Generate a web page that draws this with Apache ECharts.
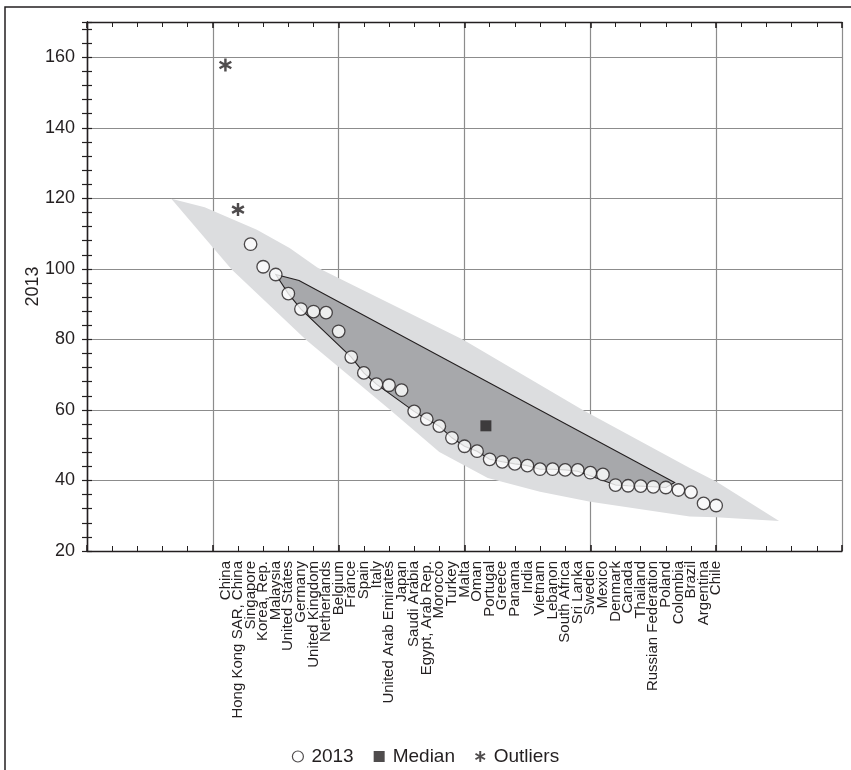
<!DOCTYPE html>
<html><head><meta charset="utf-8">
<script src="https://cdn.jsdelivr.net/npm/echarts@6.0.0/dist/echarts.min.js"></script>
<style>html,body{margin:0;padding:0;background:#fff}#c{width:851px;height:770px}</style>
</head><body><div id="c"></div>
<script>
// ---- data ----
const categories = ['China','Hong Kong SAR, China','Singapore','Korea, Rep.','Malaysia','United States','Germany','United Kingdom','Netherlands','Belgium','France','Spain','Italy','United Arab Emirates','Japan','Saudi Arabia','Egypt, Arab Rep.','Morocco','Turkey','Malta','Oman','Portugal','Greece','Panama','India','Vietnam','Lebanon','South Africa','Sri Lanka','Sweden','Mexico','Denmark','Canada','Thailand','Russian Federation','Poland','Colombia','Brazil','Argentina','Chile'];
const values2013 = [null,null,107.0,100.6,98.4,93.0,88.6,87.9,87.6,82.3,75.0,70.5,67.3,67.0,65.6,59.6,57.4,55.4,52.1,49.7,48.3,46.0,45.3,44.7,44.2,43.2,43.2,43.0,43.0,42.2,41.7,38.7,38.5,38.4,38.2,38.0,37.3,36.7,33.5,32.9];
const outlierNames = ['China','Hong Kong SAR, China'];
const outlierValues = [157.8,116.8];
const medianIndex = 20.7;   // position along the category sequence
const medianValue = 55.5;
// outer (light) band outline, in category-index / value units
const outerBandIdx = [-4.3,-1.65,2.5,5.1,7.3,18.9,28.4,36.9,39.0,44.0,39.0,36.9,29.0,25.0,20.85,17.0,13.1,6.4,0.5];
const outerBandVal = [119.9,117.5,111.1,105.9,100.4,79.9,60.0,43.5,39.7,28.5,29.6,29.8,34.0,36.8,40.7,48.1,60.0,79.9,99.8];
// inner (dark) band outline
const innerBandIdx = [4,5.85,35.7,35,34,33,32,31,28,27,26,25,24,23,22,21,20,19,18,17,16,15,12,11,10,6,5];
const innerBandVal = [98.4,96.7,39.4,38.0,38.2,38.4,38.5,38.7,42.6,43.0,43.2,43.2,44.2,44.7,45.3,46.0,48.3,49.7,52.1,55.4,57.4,59.6,67.3,70.5,75.0,88.6,93.0];
const yTickLabels = [20,40,60,80,100,120,140,160];

// ---- chart ----
const firstAt = 11; // axis unit where the first category sits
const ink = '#231f20';
const font = 'Liberation Sans, Arial, Helvetica, sans-serif';
const asterisk = 'path://M-0.9,-5L0.9,-5L0.9,5L-0.9,5ZM3.88,-3.279L4.78,-1.721L-3.88,3.279L-4.78,1.721ZM-4.78,-1.721L-3.88,-3.279L4.78,1.721L3.88,3.279Z';

const chart = echarts.init(document.getElementById('c'), null, {renderer:'canvas'});

function bandRenderer(idxArr, valArr, style) {
  return function (params, api) {
    const pts = idxArr.map((x, i) => api.coord([x + firstAt, valArr[i]]));
    return {type:'polygon', shape:{points:pts}, style:style, silent:true};
  };
}

const scatter2013 = [];
values2013.forEach((v, i) => { if (v != null) scatter2013.push([i + firstAt, v]); });
const outlierData = outlierNames.map((n, k) => [categories.indexOf(n) + firstAt, outlierValues[k]]);

chart.setOption({
  animation:false,
  backgroundColor:'#fff',
  textStyle:{fontFamily:font, color:ink},
  graphic:[{type:'rect', shape:{x:5, y:7, width:900, height:900}, style:{fill:'none', stroke:ink, lineWidth:1.5}, z:-10, silent:true}],
  grid:{left:87, top:22, width:755, height:529, containLabel:false},
  legend:{
    top:742, left:'center', itemGap:20, itemWidth:11, itemHeight:11,
    textStyle:{fontSize:19, color:ink, fontFamily:font, padding:[0,0,0,3]},
    data:[
      {name:'2013', icon:'circle', itemStyle:{color:'#fff', borderColor:ink, borderWidth:1.2}},
      {name:'Median', icon:'rect'},
      {name:'Outliers', icon:asterisk}
    ]
  },
  xAxis:[
    {type:'value', min:0, max:60, interval:10, position:'bottom',
      axisLine:{show:true, lineStyle:{color:ink, width:1.3}},
      axisTick:{show:true, inside:true, length:6, lineStyle:{color:ink, width:1.6}},
      minorTick:{show:true, splitNumber:5, length:5, lineStyle:{color:ink, width:1}},
      axisLabel:{show:false},
      splitLine:{show:true, lineStyle:{color:'#8c8c8c', width:1.2}}},
    {type:'value', min:0, max:60, interval:1, position:'bottom',
      axisLine:{show:false}, axisTick:{show:false}, splitLine:{show:false},
      axisLabel:{show:true, rotate:90, margin:10, fontSize:15, color:ink, fontFamily:font,
        formatter:v => categories[Math.round(v) - firstAt] || ''}},
    {type:'value', min:0, max:60, interval:10, position:'top',
      axisLine:{show:true, lineStyle:{color:ink, width:1.3}},
      axisTick:{show:true, inside:true, length:6, lineStyle:{color:ink, width:1.6}},
      minorTick:{show:true, splitNumber:5, length:5, lineStyle:{color:ink, width:1}},
      axisLabel:{show:false}, splitLine:{show:false}}
  ],
  yAxis:[
    {type:'value', min:20, max:170, interval:20, position:'left',
      name:'2013', nameLocation:'middle', nameRotate:90, nameGap:45,
      nameTextStyle:{fontSize:18, color:ink, fontFamily:font},
      axisLine:{show:true, lineStyle:{color:ink, width:1.3}},
      axisTick:{show:false}, axisLabel:{show:false},
      splitLine:{show:true, lineStyle:{color:'#8c8c8c', width:1.2}}},
    {type:'value', min:20, max:170, interval:4, position:'left',
      axisLine:{show:false},
      axisTick:{show:true, inside:true, length:5, lineStyle:{color:ink, width:1.2}},
      axisLabel:{show:true, fontSize:18, color:ink, fontFamily:font, margin:12,
        formatter:v => yTickLabels.indexOf(v) >= 0 ? String(v) : ''},
      splitLine:{show:false}},
    {type:'value', min:20, max:170, interval:4, position:'right',
      axisLine:{show:true, lineStyle:{color:ink, width:1.3}},
      axisTick:{show:true, inside:true, length:5, lineStyle:{color:ink, width:1.2}},
      axisLabel:{show:false}, splitLine:{show:false}}
  ],
  series:[
    {type:'custom', name:'band', xAxisIndex:0, yAxisIndex:0, z:1, silent:true,
      renderItem:bandRenderer(outerBandIdx, outerBandVal, {fill:'#dcdddf'}), data:[[0,0]]},
    {type:'custom', name:'iqr', xAxisIndex:0, yAxisIndex:0, z:2, silent:true,
      renderItem:bandRenderer(innerBandIdx, innerBandVal, {fill:'#a7a8ab', stroke:ink, lineWidth:1.1}), data:[[0,0]]},
    {type:'scatter', name:'2013', xAxisIndex:0, yAxisIndex:0, z:5, symbol:'circle', symbolSize:12.5,
      itemStyle:{color:'#fff', borderColor:ink, borderWidth:1.3}, data:scatter2013},
    {type:'scatter', name:'Median', xAxisIndex:0, yAxisIndex:0, z:5, symbol:'rect', symbolSize:11,
      itemStyle:{color:ink}, data:[[medianIndex + firstAt, medianValue]]},
    {type:'scatter', name:'Outliers', xAxisIndex:0, yAxisIndex:0, z:5, symbol:asterisk, symbolSize:13,
      itemStyle:{color:ink}, data:outlierData}
  ]
});
</script></body></html>
